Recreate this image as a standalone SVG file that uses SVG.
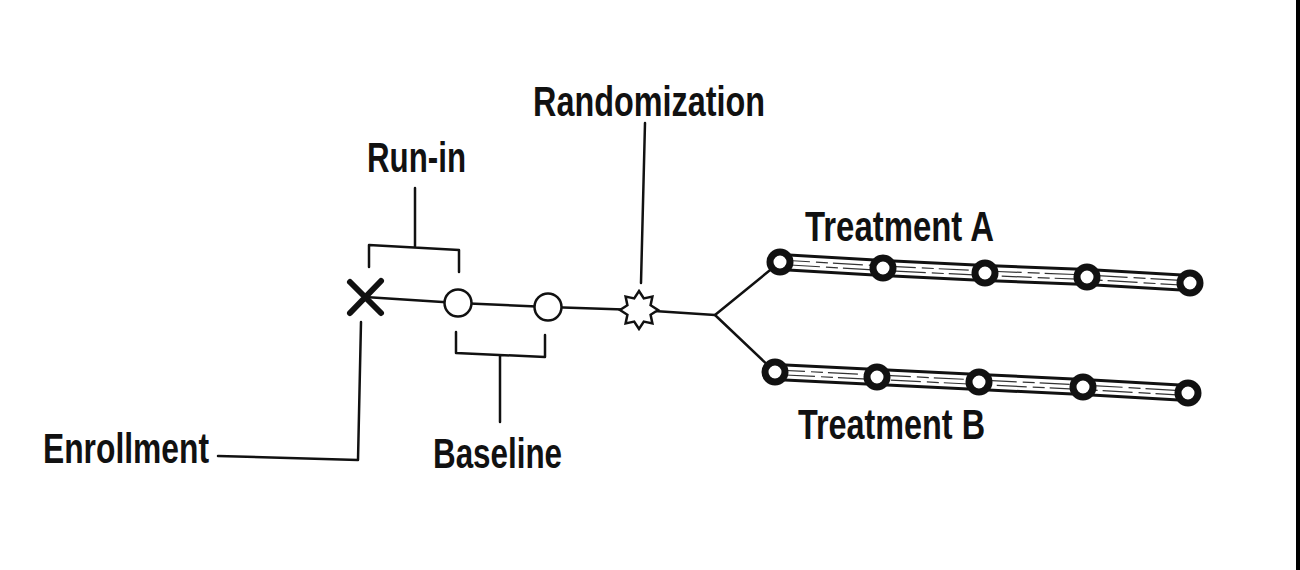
<svg xmlns="http://www.w3.org/2000/svg" width="1300" height="570" viewBox="0 0 1300 570">
<style>
.lbl{font-family:"Liberation Sans",Arial,sans-serif;font-weight:bold;font-size:42px;fill:#111;}
.ln{fill:none;stroke:#111;stroke-width:2.5;stroke-linecap:round;stroke-linejoin:round;}
.open{fill:#fff;stroke:#111;stroke-width:2.5;}
.visit{fill:#fff;stroke:#111;stroke-width:7;}
.barO{fill:none;stroke:#111;stroke-width:18;stroke-linejoin:round;}
.barI{fill:none;stroke:#fff;stroke-width:12;stroke-linejoin:round;}
.hatch{fill:none;stroke:#333;stroke-width:1.2;stroke-dasharray:30 6 12 5;}
</style>
<rect width="1300" height="570" fill="#fff"/>
<rect x="1296" y="0" width="4" height="570" fill="#000"/>

<g id="connectors">
  <path class="ln" d="M365,297 L458,303 L548,307 L639,310 L715,315"/>
  <path class="ln" d="M715,315 L780,262 M715,315 L775,372"/>
  <path class="ln" d="M369,267 V245 L459,250 V272 M415,188 V247"/>
  <path class="ln" d="M456,332 V353 L545,357 V335 M500,356 V422"/>
  <path class="ln" d="M645,123 L641,283"/>
  <path class="ln" d="M218,456 L358,460 L361,322"/>
  <g id="barA">
    <polyline class="barO" points="780,262 883,268 985,273 1087,277 1190,283"/>
    <polyline class="barI" points="780,262 883,268 985,273 1087,277 1190,283"/>
    <polyline class="hatch" points="780,260 883,266 985,271 1087,275 1190,281"/>
    <polyline class="hatch" points="790,265 883,270.5 985,275.5 1087,279.5 1190,285.5" stroke-dasharray="20 10 40 8"/>
  </g>
  <g id="barB">
    <polyline class="barO" points="775,372 877,377 979,382 1083,387 1188,393"/>
    <polyline class="barI" points="775,372 877,377 979,382 1083,387 1188,393"/>
    <polyline class="hatch" points="775,370 877,375 979,380 1083,385 1188,391"/>
    <polyline class="hatch" points="785,375 877,379.5 979,384.5 1083,389.5 1188,395.5" stroke-dasharray="20 10 40 8"/>
  </g>
</g>

<g id="enrollment">
  <path d="M350,282 L381,313 M381,281 L350,313" stroke="#111" stroke-width="6" stroke-linecap="round" fill="none"/>
  <text class="lbl" x="43" y="463" textLength="166" lengthAdjust="spacingAndGlyphs">Enrollment</text>
</g>

<g id="runin-baseline">
  <circle class="open" cx="458" cy="303" r="13.5"/>
  <circle class="open" cx="548" cy="307" r="13.5"/>
  <text class="lbl" x="367" y="172" textLength="99" lengthAdjust="spacingAndGlyphs">Run-in</text>
  <text class="lbl" x="433" y="468" textLength="129" lengthAdjust="spacingAndGlyphs">Baseline</text>
</g>

<g id="randomization">
  <polygon class="open" points="639,291 643.8,298.4 652.4,296.6 650.6,305.2 658,310 650.6,314.8 652.4,323.4 643.8,321.6 639,329 634.2,321.6 625.6,323.4 627.4,314.8 620,310 627.4,305.2 625.6,296.6 634.2,298.4"/>
  <text class="lbl" x="533" y="116" textLength="232" lengthAdjust="spacingAndGlyphs">Randomization</text>
</g>

<g id="treatmentA">
  <circle class="visit" cx="780" cy="262" r="10"/>
  <circle class="visit" cx="883" cy="268" r="10"/>
  <circle class="visit" cx="985" cy="273" r="10"/>
  <circle class="visit" cx="1087" cy="277" r="10"/>
  <circle class="visit" cx="1190" cy="283" r="10"/>
  <text class="lbl" x="805" y="241" textLength="189" lengthAdjust="spacingAndGlyphs">Treatment A</text>
</g>

<g id="treatmentB">
  <circle class="visit" cx="775" cy="372" r="10"/>
  <circle class="visit" cx="877" cy="377" r="10"/>
  <circle class="visit" cx="979" cy="382" r="10"/>
  <circle class="visit" cx="1083" cy="387" r="10"/>
  <circle class="visit" cx="1188" cy="393" r="10"/>
  <text class="lbl" x="798" y="439" textLength="187" lengthAdjust="spacingAndGlyphs">Treatment B</text>
</g>
</svg>
